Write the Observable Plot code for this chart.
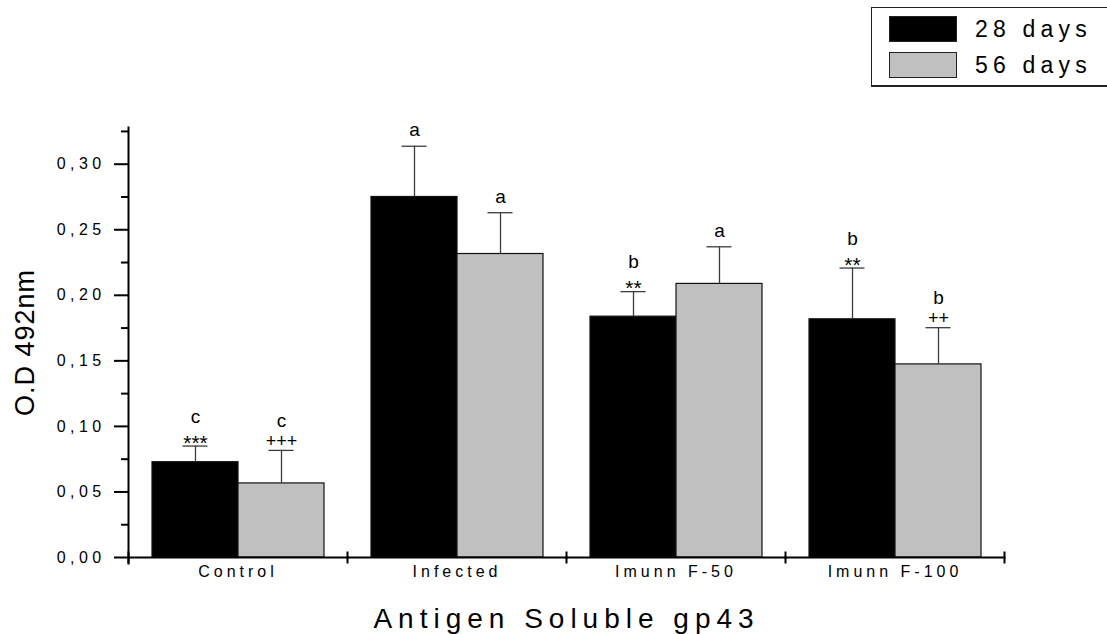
<!DOCTYPE html>
<html>
<head>
<meta charset="utf-8">
<script src="https://cdn.jsdelivr.net/npm/d3@7"></script>
<script src="https://cdn.jsdelivr.net/npm/@observablehq/plot@0.6"></script>
<style>
  html, body { margin: 0; padding: 0; background: #fff; }
  body { font-family: "Liberation Sans", Arial, sans-serif; }
  #wrap { position: relative; width: 1107px; height: 634px; overflow: hidden; }
  #wrap svg { display: block; }
  #legend {
    position: absolute; left: 871px; top: 7px; width: 240px; height: 80px;
    box-sizing: border-box; border: 1px solid #222; border-bottom-width: 2px; background: #fff;
  }
  .lg-row { position: absolute; left: 17px; height: 26px; display: flex; align-items: center; }
  .lg-sw { width: 68px; height: 26px; box-sizing: border-box; border: 1px solid #222; }
  .lg-tx { margin-left: 18px; font-size: 23px; letter-spacing: 5.2px; color: #000; line-height: 26px; }
  g[aria-label="y-axis tick label"] text { font-size: 16px; letter-spacing: 4.4px; }
  g[aria-label="fx-axis tick label"] text { font-size: 16px; letter-spacing: 4px; }
  g[aria-label="fx-axis label"] text { font-size: 28px; letter-spacing: 6px; }
  g[aria-label="y-axis label"] text { font-size: 27px; letter-spacing: 1px; }
  g[aria-label="pluses"] text { font-size: 18px; letter-spacing: 6px; }
  g[aria-label="stars"] text { font-size: 21px; letter-spacing: 1.5px; }
  g[aria-label="letters"] text { font-size: 19px; }
</style>
</head>
<body>
<div id="wrap">
  <div id="legend"></div>
</div>
<script>
// ---- data ----
const categories = ["Control", "Infected", "Imunn F-50", "Imunn F-100"];
const series = ["28 days", "56 days"];
const seriesColors = ["#000000", "#c0c0c0"];
const means28 = [0.0727, 0.2750, 0.1837, 0.1817];
const means56 = [0.0565, 0.2315, 0.2087, 0.1473];
const sd28 = [0.0123, 0.0387, 0.0191, 0.0391];
const sd56 = [0.0252, 0.0315, 0.0283, 0.0280];
const letters28 = ["c", "a", "b", "b"];
const letters56 = ["c", "a", "a", "b"];
const symbols28 = ["***", "", "**", "**"];
const symbols56 = ["+++", "", "", "++"];
const yMajorTicks = [0, 0.05, 0.10, 0.15, 0.20, 0.25, 0.30];
const yMinorTicks = [0.025, 0.075, 0.125, 0.175, 0.225, 0.275, 0.325];
const yLabel = "O.D 492nm";
const xLabel = "Antigen Soluble gp43";

// ---- table built from the arrays ----
const rows = categories.flatMap((c, i) => [
  {category: c, series: series[0], mean: means28[i], sd: sd28[i], letter: letters28[i], symbol: symbols28[i]},
  {category: c, series: series[1], mean: means56[i], sd: sd56[i], letter: letters56[i], symbol: symbols56[i]}
]);
const errTop = d => d.mean + d.sd;

// ---- layout ----
const W = 1107, H = 634;
const mL = 128, mR = 103, mT = 127, mB = 77;
const plotH = H - mT - mB;
const axisStroke = 2;

const fmt = d => d.toFixed(2).replace(".", ",");

const chart = Plot.plot({
  width: W, height: H,
  marginLeft: mL, marginRight: mR, marginTop: mT, marginBottom: mB,
  style: {fontFamily: '"Liberation Sans", Arial, sans-serif', fontSize: "15px", color: "#000", background: "#fff", overflow: "visible"},
  fx: {domain: categories, padding: 0, label: null},
  x: {domain: series, paddingInner: 0, paddingOuter: 0.26, axis: null},
  y: {domain: [0, 0.328], axis: null},
  color: {domain: series, range: seriesColors},
  marks: [
    Plot.barY(rows, {fx: "category", x: "series", y: "mean", fill: "series", stroke: "#111", strokeWidth: 1.2}),
    Plot.ruleX(rows, {fx: "category", x: "series", y1: "mean", y2: errTop, stroke: "#3c3c3c", strokeWidth: 1.3}),
    Plot.tickY(rows, {fx: "category", x: "series", y: errTop, stroke: "#3c3c3c", strokeWidth: 1.3, insetLeft: 30.5, insetRight: 30.5}),
    // axes lines
    Plot.frame({anchor: "bottom", strokeWidth: axisStroke}),
    Plot.frame({anchor: "left", facetAnchor: "left", strokeWidth: axisStroke, insetBottom: -6}),
    Plot.frame({anchor: "left", strokeWidth: axisStroke, insetTop: plotH - 5, insetBottom: -5}),
    Plot.frame({anchor: "right", facetAnchor: "right", strokeWidth: axisStroke, insetTop: plotH - 5, insetBottom: -5}),
    Plot.axisY({ticks: yMajorTicks, tickSize: 14, tickPadding: 9, tickFormat: fmt, strokeWidth: axisStroke,
      label: yLabel, labelAnchor: "center", labelOffset: 114, labelArrow: "none", fontSize: 16}),
    Plot.axisY({ticks: yMinorTicks, tickSize: 7, tickFormat: () => "", strokeWidth: axisStroke, label: null}),
    Plot.axisFx({anchor: "bottom", tickSize: 0, tickPadding: 8, fontSize: 16,
      label: xLabel, labelAnchor: "center", labelOffset: 70, labelArrow: "none"}),
    // annotations
    Plot.text(rows.filter(d => d.symbol !== ""), {fx: "category", x: "series", y: errTop, text: "letter", dy: -29.5, fontSize: 19, ariaLabel: "letters"}),
    Plot.text(rows.filter(d => d.symbol === ""), {fx: "category", x: "series", y: errTop, text: "letter", dy: -16, fontSize: 19, ariaLabel: "letters"}),
    Plot.text(rows.filter(d => d.symbol.includes("*")), {fx: "category", x: "series", y: errTop, text: "symbol", dy: -3, fontSize: 21, ariaLabel: "stars"}),
    Plot.text(rows.filter(d => d.symbol.includes("+")), {fx: "category", x: "series", y: errTop, text: "symbol", dy: -9.5, fontSize: 18, ariaLabel: "pluses"})
  ]
});

const wrap = document.getElementById("wrap");
wrap.insertBefore(chart, wrap.firstChild);

// ---- legend built from the series arrays ----
const legend = document.getElementById("legend");
series.forEach((s, i) => {
  const row = document.createElement("div");
  row.className = "lg-row";
  row.style.top = (8 + i * 36) + "px";
  const sw = document.createElement("div");
  sw.className = "lg-sw";
  sw.style.background = seriesColors[i];
  const tx = document.createElement("span");
  tx.className = "lg-tx";
  tx.textContent = s;
  row.appendChild(sw);
  row.appendChild(tx);
  legend.appendChild(row);
});
</script>
</body>
</html>
